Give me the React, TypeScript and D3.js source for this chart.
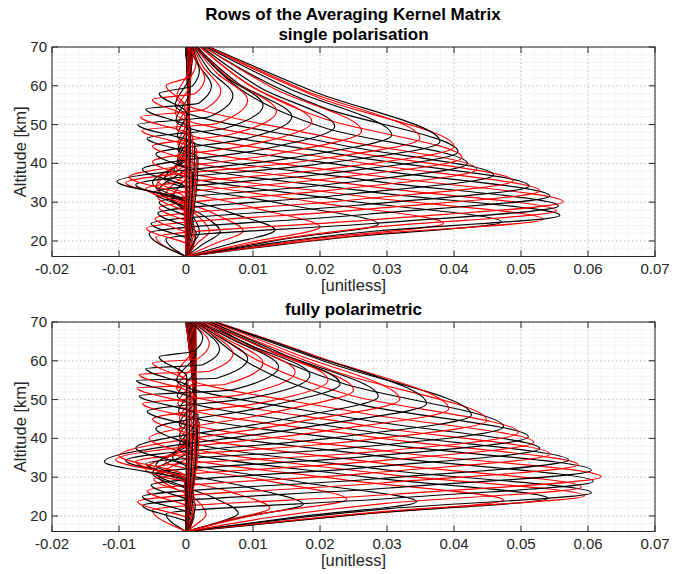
import React from "react";
import * as d3 from "d3";

// ---------- axis data ----------
const X_TICKS = [-0.02, -0.01, 0, 0.01, 0.02, 0.03, 0.04, 0.05, 0.06, 0.07];
const X_TICK_LABELS = ["-0.02", "-0.01", "0", "0.01", "0.02", "0.03", "0.04", "0.05", "0.06", "0.07"];
const Y_TICKS = [20, 30, 40, 50, 60, 70];
const Y_TICK_LABELS = ["20", "30", "40", "50", "60", "70"];
const X_DOMAIN = [-0.02, 0.07];
const Y_DOMAIN = [16, 70];

const TITLE = "Rows of the Averaging Kernel Matrix";
const SUBTITLES = ["single polarisation", "fully polarimetric"];
const X_LABEL = "[unitless]";
const Y_LABEL = "Altitude [km]";

// ---------- kernel rows, single polarisation ----------
// peak altitude [km], peak value, lower / upper half-width [km],
// lower side-lobe (alt, value), near-zero value below the lobe,
// upper side-lobe (alt, value), value at 70 km
const TOP_PEAK_ALT = [22.3, 22.5, 22.4, 22.6, 22.8, 23.6, 24.4, 24.6, 24.9, 25.6, 26.6, 27.8, 29.0, 30.1, 31.6, 32.9, 34.2, 35.5, 37.0, 38.5, 40.0, 41.5, 43.0, 44.3, 45.6, 46.5, 47.3, 48.3, 49.5, 50.7, 52.0, 53.5, 55.0, 56.3, 57.5, 58.8, 60.0, 62.0, 64.0, 66.0];
const TOP_PEAK_VAL = [0.002, 0.0035, 0.0051, 0.0085, 0.0133, 0.02, 0.0287, 0.0384, 0.0471, 0.0533, 0.0558, 0.0553, 0.0556, 0.0563, 0.0543, 0.0528, 0.0512, 0.0488, 0.0459, 0.0434, 0.042, 0.0412, 0.0406, 0.04, 0.0379, 0.0349, 0.0307, 0.0262, 0.0222, 0.0188, 0.0158, 0.0135, 0.0115, 0.0092, 0.007, 0.0052, 0.0038, 0.0028, 0.002, 0.0015];
const TOP_LOW_HW = [3.0, 3.0, 3.2, 3.3, 3.5, 3.8, 4.0, 4.0, 4.0, 4.0, 4.1, 4.3, 4.5, 4.6, 4.7, 4.8, 5.0, 5.0, 5.2, 5.4, 5.5, 5.6, 5.8, 6.0, 6.0, 6.0, 6.0, 6.0, 6.0, 6.0, 6.0, 6.0, 6.0, 6.0, 5.5, 5.0, 4.5, 4.0, 4.0, 3.5];
const TOP_UP_HW = [4.0, 4.0, 4.2, 4.4, 4.5, 5.0, 5.2, 5.4, 5.6, 5.8, 6.0, 6.2, 6.5, 6.7, 7.0, 7.2, 7.4, 7.6, 7.8, 8.0, 9.0, 10.0, 11.5, 12.5, 13.0, 12.5, 12.0, 11.0, 10.0, 9.5, 8.5, 8.0, 7.5, 7.0, 6.5, 6.0, 5.5, 5.0, 4.0, 3.0];
const TOP_LOW_LOBE_ALT = [0, 0, 0, 0, 0, 0, 0, 0, 0, 0, 0, 0, 20.5, 21.0, 22.0, 23.3, 24.5, 25.8, 27.2, 28.6, 30.0, 31.3, 32.5, 33.5, 34.5, 35.0, 35.3, 36.5, 38.5, 40.5, 42.5, 44.5, 46.5, 48.5, 50.0, 52.0, 54.0, 56.5, 58.0, 60.0];
const TOP_LOW_LOBE_VAL = [0, 0, 0, 0, 0, 0, 0, 0, 0, 0, 0, 0, -0.003, -0.0045, -0.0055, -0.0059, -0.0052, -0.0046, -0.0042, -0.004, -0.004, -0.0042, -0.0048, -0.006, -0.0075, -0.009, -0.0103, -0.0085, -0.0065, -0.005, -0.0045, -0.005, -0.0058, -0.0066, -0.0072, -0.0068, -0.006, -0.005, -0.004, -0.003];
const TOP_BASE_VAL = [0, 0, 0, 0, 0, 0, 0, 0, 0, 0, 0, 0, 0.0005, 0.0006, 0.0008, 0.001, 0.0012, 0.0014, 0.0015, 0.0013, 0.0011, 0.0009, 0.0007, 0.0005, 0.0003, 0.0001, -0.0002, -0.0004, 0.0002, 0.0006, 0.001, 0.0014, 0.0018, 0.0016, 0.0013, 0.001, 0.0007, 0.0004, 0.0001, -0.0002];
const TOP_UP_LOBE_ALT = [31.0, 32.0, 33.0, 34.0, 35.0, 35.5, 36.0, 37.0, 38.0, 39.0, 40.5, 42.0, 43.5, 45.0, 47.0, 49.0, 51.0, 53.0, 55.0, 57.0, 0, 0, 0, 0, 0, 0, 0, 0, 0, 0, 0, 0, 0, 0, 0, 0, 0, 0, 0, 0];
const TOP_UP_LOBE_VAL = [-0.002, -0.003, -0.004, -0.0045, -0.005, -0.0042, -0.0032, -0.0024, -0.0018, -0.0015, -0.0013, -0.0012, -0.0012, -0.0012, -0.0013, -0.0014, -0.0015, -0.0016, -0.0016, -0.0014, 0, 0, 0, 0, 0, 0, 0, 0, 0, 0, 0, 0, 0, 0, 0, 0, 0, 0, 0, 0];
const TOP_VAL_70 = [0, 0, 0, 0, 0, 0, 0, 0, 0, 0.0002, 0.0003, 0.0004, 0.0005, 0.0006, 0.0007, 0.0008, 0.0009, 0.001, 0.0011, 0.0012, 0.0018, 0.0022, 0.0027, 0.0032, 0.0035, 0.0033, 0.003, 0.0027, 0.0024, 0.0021, 0.0016, 0.0015, 0.0014, 0.0013, 0.0012, 0.0011, 0.001, 0.0008, 0.0006, 0.0004];

// ---------- kernel rows, fully polarimetric ----------
const BOT_PEAK_ALT = [20.3, 20.7, 22.0, 23.0, 24.3, 23.7, 24.1, 24.6, 25.2, 26.0, 27.5, 28.9, 30.1, 31.8, 33.2, 34.4, 36.0, 37.4, 39.0, 40.4, 41.5, 43.0, 44.6, 46.0, 47.6, 48.9, 50.0, 50.8, 52.5, 54.0, 55.0, 56.3, 57.2, 58.5, 59.4, 60.5, 61.8, 63.0, 64.5, 66.0];
const BOT_PEAK_VAL = [0.003, 0.0078, 0.0125, 0.0175, 0.024, 0.0344, 0.0474, 0.054, 0.0595, 0.0605, 0.059, 0.0608, 0.062, 0.0605, 0.0585, 0.0571, 0.0543, 0.0528, 0.0519, 0.0511, 0.0496, 0.0474, 0.0449, 0.0426, 0.0392, 0.0359, 0.0319, 0.0287, 0.025, 0.023, 0.0212, 0.0185, 0.0163, 0.0138, 0.0115, 0.0092, 0.007, 0.005, 0.0035, 0.0025];
const BOT_LOW_HW = [2.5, 2.8, 3.0, 3.2, 3.5, 3.8, 4.0, 4.0, 4.0, 4.1, 4.3, 4.4, 4.5, 4.6, 4.7, 4.8, 5.0, 5.0, 5.2, 5.3, 5.4, 5.6, 5.8, 6.0, 6.0, 6.0, 6.0, 6.0, 6.0, 6.0, 6.0, 6.0, 6.0, 6.0, 5.5, 5.0, 4.5, 4.0, 4.0, 3.5];
const BOT_UP_HW = [4.0, 4.2, 4.4, 4.6, 4.8, 5.0, 5.2, 5.4, 5.6, 5.8, 6.0, 6.2, 6.4, 6.6, 6.8, 7.0, 7.2, 7.4, 7.6, 8.5, 9.5, 11.0, 12.5, 13.5, 13.5, 13.0, 12.0, 11.0, 10.0, 9.5, 9.0, 8.0, 7.5, 7.0, 6.5, 6.0, 5.5, 5.0, 4.0, 3.0];
const BOT_LOW_LOBE_ALT = [0, 0, 0, 0, 0, 0, 0, 0, 0, 0, 0, 20.5, 21.5, 22.7, 23.7, 25.0, 26.5, 28.0, 29.5, 31.0, 32.5, 33.5, 34.0, 34.3, 34.5, 34.0, 35.5, 37.5, 40.0, 42.5, 45.0, 47.0, 49.0, 51.0, 53.0, 55.0, 56.5, 58.0, 59.5, 61.0];
const BOT_LOW_LOBE_VAL = [0, 0, 0, 0, 0, 0, 0, 0, 0, 0, 0, -0.003, -0.005, -0.0065, -0.0072, -0.0065, -0.0058, -0.0052, -0.0048, -0.0045, -0.0048, -0.006, -0.0075, -0.009, -0.0105, -0.0122, -0.01, -0.0075, -0.0055, -0.0045, -0.005, -0.0058, -0.0065, -0.007, -0.0073, -0.0074, -0.007, -0.006, -0.005, -0.004];
const BOT_BASE_VAL = [0, 0, 0, 0, 0, 0, 0, 0, 0, 0, 0, 0.0004, 0.0006, 0.0008, 0.001, 0.0012, 0.0013, 0.0014, 0.0013, 0.0011, 0.0009, 0.0007, 0.0005, 0.0003, 0.0001, -0.0001, -0.0003, 0.0001, 0.0005, 0.0009, 0.0013, 0.0017, 0.002, 0.0018, 0.0015, 0.0012, 0.0009, 0.0006, 0.0003, 0.0001];
const BOT_UP_LOBE_ALT = [30.0, 31.0, 32.0, 33.0, 34.0, 35.0, 36.0, 37.5, 39.0, 40.5, 42.0, 43.5, 45.0, 47.0, 49.0, 51.0, 53.0, 55.0, 57.0, 0, 0, 0, 0, 0, 0, 0, 0, 0, 0, 0, 0, 0, 0, 0, 0, 0, 0, 0, 0, 0];
const BOT_UP_LOBE_VAL = [-0.004, -0.005, -0.006, -0.0045, -0.003, -0.002, -0.0015, -0.0012, -0.001, -0.001, -0.001, -0.001, -0.001, -0.0011, -0.0012, -0.0013, -0.0014, -0.0014, -0.0012, 0, 0, 0, 0, 0, 0, 0, 0, 0, 0, 0, 0, 0, 0, 0, 0, 0, 0, 0, 0, 0];
const BOT_VAL_70 = [0, 0, 0, 0, 0, 0.0002, 0.0003, 0.0004, 0.0005, 0.0006, 0.0007, 0.0008, 0.0009, 0.001, 0.0011, 0.0012, 0.0013, 0.0014, 0.0015, 0.002, 0.0025, 0.003, 0.0036, 0.0042, 0.0045, 0.0043, 0.004, 0.0036, 0.0032, 0.0028, 0.0025, 0.002, 0.0018, 0.0016, 0.0014, 0.0012, 0.001, 0.0008, 0.0006, 0.0004];

// ---------- styling ----------
const FONT = "'Liberation Sans', Arial, Helvetica, sans-serif";
const AXIS_COLOR = "#262626";
const LEFT = 52;
const RIGHT = 655;

type Pt = [number, number]; // [altitude, value]

interface PanelData {
  peakAlt: number[];
  peakVal: number[];
  lowHW: number[];
  upHW: number[];
  lowLobeAlt: number[];
  lowLobeVal: number[];
  baseVal: number[];
  upLobeAlt: number[];
  upLobeVal: number[];
  val70: number[];
  returnVal: number;
}

const TOP_PANEL: PanelData = {
  peakAlt: TOP_PEAK_ALT, peakVal: TOP_PEAK_VAL, lowHW: TOP_LOW_HW, upHW: TOP_UP_HW,
  lowLobeAlt: TOP_LOW_LOBE_ALT, lowLobeVal: TOP_LOW_LOBE_VAL, baseVal: TOP_BASE_VAL,
  upLobeAlt: TOP_UP_LOBE_ALT, upLobeVal: TOP_UP_LOBE_VAL, val70: TOP_VAL_70, returnVal: 0.0005,
};
const BOT_PANEL: PanelData = {
  peakAlt: BOT_PEAK_ALT, peakVal: BOT_PEAK_VAL, lowHW: BOT_LOW_HW, upHW: BOT_UP_HW,
  lowLobeAlt: BOT_LOW_LOBE_ALT, lowLobeVal: BOT_LOW_LOBE_VAL, baseVal: BOT_BASE_VAL,
  upLobeAlt: BOT_UP_LOBE_ALT, upLobeVal: BOT_UP_LOBE_VAL, val70: BOT_VAL_70, returnVal: 0.0015,
};

function rowPoints(d: PanelData, i: number): Pt[] {
  const p = d.peakAlt[i];
  const a = d.peakVal[i];
  const pts: Pt[] = [[16, 0]];
  const lla = d.lowLobeAlt[i];
  if (lla > 0) {
    if (lla - 5 > 17) pts.push([lla - 5, d.baseVal[i]]);
    pts.push([lla, d.lowLobeVal[i]]);
  }
  pts.push([p - d.lowHW[i], a / 2], [p, a], [p + d.upHW[i], a / 2]);
  const ula = d.upLobeAlt[i];
  if (ula > 0) {
    pts.push([ula, d.upLobeVal[i]]);
    if (ula + 7 < 69) pts.push([ula + 7, d.returnVal]);
  }
  pts.push([70, d.val70[i]]);
  return pts;
}

function Panel({ top, bottom, subtitle, data, blackParity }: {
  top: number; bottom: number; subtitle: string; data: PanelData; blackParity: number;
}) {
  const x = d3.scaleLinear().domain(X_DOMAIN).range([LEFT, RIGHT]);
  const y = d3.scaleLinear().domain(Y_DOMAIN).range([bottom, top]);
  const line = d3.line<Pt>().x((d) => x(d[1])).y((d) => y(d[0])).curve(d3.curveMonotoneY);
  const minorX = x.ticks(45);
  const minorY = y.ticks(27);
  const clipId = `clip-${Math.round(top)}`;
  const rows = data.peakAlt.map((_, i) => i);
  const midY = (top + bottom) / 2;
  return (
    <g>
      <defs>
        <clipPath id={clipId}>
          <rect x={LEFT} y={top} width={RIGHT - LEFT} height={bottom - top} />
        </clipPath>
      </defs>
      {/* minor grid */}
      {minorX.map((v, k) => (
        <line key={"mx" + k} x1={x(v)} x2={x(v)} y1={top} y2={bottom} stroke="#e6e6e6" strokeWidth={1} strokeDasharray="1,1" />
      ))}
      {minorY.map((v, k) => (
        <line key={"my" + k} x1={LEFT} x2={RIGHT} y1={y(v)} y2={y(v)} stroke="#e6e6e6" strokeWidth={1} strokeDasharray="1,1" />
      ))}
      {/* major grid */}
      {X_TICKS.map((v, k) => (
        <line key={"gx" + k} x1={x(v)} x2={x(v)} y1={top} y2={bottom} stroke="#b8b8b8" strokeWidth={1} strokeDasharray="1,3" />
      ))}
      {Y_TICKS.map((v, k) => (
        <line key={"gy" + k} x1={LEFT} x2={RIGHT} y1={y(v)} y2={y(v)} stroke="#b8b8b8" strokeWidth={1} strokeDasharray="1,3" />
      ))}
      {/* kernel rows */}
      <g clipPath={`url(#${clipId})`} fill="none" strokeWidth={1.15}>
        {rows.map((i) => (
          <path key={"k" + i} d={line(rowPoints(data, i)) || ""} stroke={i % 2 === blackParity ? "#000000" : "#ff0000"} />
        ))}
      </g>
      {/* box and ticks */}
      <rect x={LEFT} y={top} width={RIGHT - LEFT} height={bottom - top} fill="none" stroke={AXIS_COLOR} strokeWidth={1} />
      {X_TICKS.map((v, k) => (
        <g key={"xt" + k}>
          <line x1={x(v)} x2={x(v)} y1={bottom} y2={bottom - 6} stroke={AXIS_COLOR} />
          <line x1={x(v)} x2={x(v)} y1={top} y2={top + 6} stroke={AXIS_COLOR} />
          <text x={x(v)} y={bottom + 17} textAnchor="middle" fontFamily={FONT} fontSize={15} fill={AXIS_COLOR}>
            {X_TICK_LABELS[k]}
          </text>
        </g>
      ))}
      {Y_TICKS.map((v, k) => (
        <g key={"yt" + k}>
          <line x1={LEFT} x2={LEFT + 6} y1={y(v)} y2={y(v)} stroke={AXIS_COLOR} />
          <line x1={RIGHT} x2={RIGHT - 6} y1={y(v)} y2={y(v)} stroke={AXIS_COLOR} />
          <text x={LEFT - 5} y={y(v) + 5} textAnchor="end" fontFamily={FONT} fontSize={15} fill={AXIS_COLOR}>
            {Y_TICK_LABELS[k]}
          </text>
        </g>
      ))}
      <text x={(LEFT + RIGHT) / 2} y={bottom + 34} textAnchor="middle" fontFamily={FONT} fontSize={16.5} fill={AXIS_COLOR}>
        {X_LABEL}
      </text>
      <text transform={`translate(26,${midY}) rotate(-90)`} textAnchor="middle" fontFamily={FONT} fontSize={16.5} fill={AXIS_COLOR}>
        {Y_LABEL}
      </text>
      <text x={(LEFT + RIGHT) / 2} y={top - 7} textAnchor="middle" fontFamily={FONT} fontSize={17} fontWeight="bold" fill="#000">
        {subtitle}
      </text>
    </g>
  );
}

export default function App() {
  return (
    <svg width={684} height={574} style={{ position: "absolute", left: 0, top: 0, background: "#fff" }}>
      <rect x={0} y={0} width={684} height={574} fill="#fff" />
      <text x={353} y={20} textAnchor="middle" fontFamily={FONT} fontSize={17} fontWeight="bold" fill="#000">
        {TITLE}
      </text>
      <Panel top={47} bottom={256.5} subtitle={SUBTITLES[0]} data={TOP_PANEL} blackParity={0} />
      <Panel top={322} bottom={531.5} subtitle={SUBTITLES[1]} data={BOT_PANEL} blackParity={1} />
    </svg>
  );
}
